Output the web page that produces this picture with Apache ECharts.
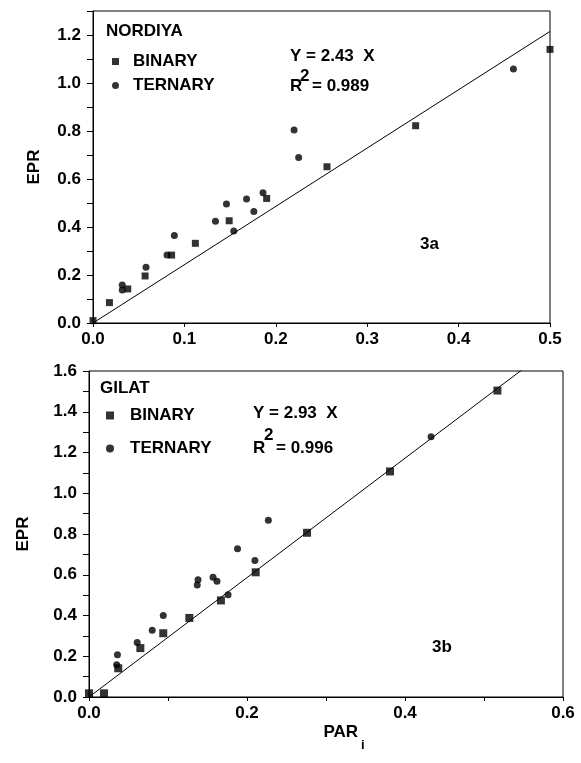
<!DOCTYPE html>
<html>
<head>
<meta charset="utf-8">
<script src="https://cdn.jsdelivr.net/npm/echarts@6/dist/echarts.min.js"></script>
<style>
html,body{margin:0;padding:0;background:#fff;}
#chart{width:581px;height:763px;}
</style>
</head>
<body>
<div id="chart"></div>
<script>
// ---- data ----
var nordiyaBinary = [[0,0.01],[0.018,0.085],[0.038,0.142],[0.057,0.196],[0.086,0.283],[0.112,0.332],[0.149,0.426],[0.190,0.519],[0.256,0.651],[0.353,0.822],[0.500,1.14]];
var nordiyaTernary = [[0.032,0.158],[0.032,0.137],[0.058,0.232],[0.081,0.283],[0.089,0.365],[0.134,0.424],[0.146,0.496],[0.154,0.383],[0.168,0.517],[0.176,0.465],[0.186,0.543],[0.220,0.804],[0.225,0.69],[0.460,1.058]];
var gilatBinary = [[0,0.018],[0.019,0.018],[0.037,0.141],[0.065,0.24],[0.094,0.313],[0.127,0.388],[0.167,0.474],[0.211,0.612],[0.276,0.806],[0.381,1.107],[0.517,1.504]];
var gilatTernary = [[0.036,0.207],[0.035,0.158],[0.061,0.268],[0.080,0.327],[0.094,0.40],[0.137,0.55],[0.138,0.575],[0.157,0.588],[0.162,0.568],[0.176,0.502],[0.188,0.727],[0.210,0.67],[0.227,0.867],[0.433,1.277]];
var nordiyaSlope = 2.43, nordiyaR2 = '0.989';
var gilatSlope = 2.93, gilatR2 = '0.996';
var nordiyaXMax = 0.5, nordiyaYMax = 1.3;
var gilatXMax = 0.6, gilatYMax = 1.6;
var seriesNames = ['BINARY','TERNARY'];
var plotTitles = ['NORDIYA','GILAT'];
var panelTags = ['3a','3b'];

var FONT = '"Liberation Sans", Arial, Helvetica, sans-serif';
var INK = '#000';
var FS = 17;
function tenths(v){ return Math.round(v*10); }
function lblAll(v){ return v.toFixed(1); }
function lblEven(v){ return tenths(v)%2===0 ? v.toFixed(1) : ''; }

function xAxisCfg(grid, max, fmt, name){
  var a = {
    type:'value', gridIndex:grid, min:0, max:max, interval:0.1,
    axisLine:{show:true, onZero:false, lineStyle:{color:INK,width:1}},
    axisTick:{show:true, length:4, lineStyle:{color:INK}},
    splitLine:{show:false},
    axisLabel:{formatter:fmt, color:INK, fontFamily:FONT, fontWeight:'bold', fontSize:FS, margin:8}
  };
  if(name){
    a.name = name; a.nameLocation='middle'; a.nameGap=27;
    a.nameTextStyle = {color:INK, fontFamily:FONT, fontWeight:'bold', fontSize:FS, padding:[0,0,0,36],
      rich:{m:{fontFamily:FONT,fontWeight:'bold',fontSize:FS,color:INK,verticalAlign:'top',lineHeight:18},
            s:{fontFamily:FONT,fontWeight:'bold',fontSize:13,color:INK,verticalAlign:'bottom',lineHeight:28,padding:[0,0,0,3]}}};
  }
  return a;
}
function yAxisCfg(grid, max, gap){
  return {
    type:'value', gridIndex:grid, min:0, max:max, interval:0.1,
    axisLine:{show:true, onZero:false, lineStyle:{color:INK,width:1}},
    axisTick:{show:true, length:6, lineStyle:{color:INK}},
    splitLine:{show:false},
    axisLabel:{formatter:lblEven, color:INK, fontFamily:FONT, fontWeight:'bold', fontSize:FS, margin:12},
    name:'EPR', nameLocation:'middle', nameGap:gap,
    nameTextStyle:{color:INK, fontFamily:FONT, fontWeight:'bold', fontSize:FS}
  };
}
function txt(x,y,s,size){
  return {type:'text', x:x, y:y, silent:true,
    style:{text:s, fill:INK, font:'bold '+(size||FS)+'px '+FONT, verticalAlign:'middle'}};
}

var chart = echarts.init(document.getElementById('chart'), null, {renderer:'canvas'});
chart.setOption({
  backgroundColor:'#fff',
  animation:false,
  grid:[
    {left:93, top:11, width:457, height:312, show:true, borderColor:INK, borderWidth:1, backgroundColor:'transparent'},
    {left:89, top:371, width:474, height:326, show:true, borderColor:INK, borderWidth:1, backgroundColor:'transparent'}
  ],
  xAxis:[ xAxisCfg(0, nordiyaXMax, lblAll), xAxisCfg(1, gilatXMax, lblEven, '{m|PAR}{s|i}') ],
  yAxis:[ yAxisCfg(0, nordiyaYMax, 50), yAxisCfg(1, gilatYMax, 57) ],
  legend:[
    {left:107, top:48, orient:'vertical', itemGap:7, itemWidth:7, itemHeight:7,
     data:[{name:seriesNames[0],icon:'rect'},{name:seriesNames[1],icon:'circle'}],
     textStyle:{color:INK, fontFamily:FONT, fontWeight:'bold', fontSize:FS, padding:[0,0,0,9]}, selectedMode:false},
    {left:101, top:402, orient:'vertical', itemGap:16, itemWidth:8, itemHeight:8,
     data:[{name:seriesNames[0],icon:'rect'},{name:seriesNames[1],icon:'circle'}],
     textStyle:{color:INK, fontFamily:FONT, fontWeight:'bold', fontSize:FS, padding:[0,0,0,11]}, selectedMode:false}
  ],
  series:[
    {type:'line', name:'fitA', xAxisIndex:0, yAxisIndex:0, data:[[0,0],[nordiyaXMax, nordiyaSlope*nordiyaXMax]],
     showSymbol:false, symbol:'none', silent:true, lineStyle:{color:INK,width:1}, clip:true, z:1},
    {type:'line', name:'fitB', xAxisIndex:1, yAxisIndex:1, data:[[0,0],[gilatXMax, gilatSlope*gilatXMax]],
     showSymbol:false, symbol:'none', silent:true, lineStyle:{color:INK,width:1}, clip:true, z:1},
    {type:'scatter', name:seriesNames[0], xAxisIndex:0, yAxisIndex:0, data:nordiyaBinary, symbol:'rect', symbolSize:7, itemStyle:{color:INK}, clip:false},
    {type:'scatter', name:seriesNames[1], xAxisIndex:0, yAxisIndex:0, data:nordiyaTernary, symbol:'circle', symbolSize:7, itemStyle:{color:INK}, clip:false},
    {type:'scatter', name:seriesNames[0], xAxisIndex:1, yAxisIndex:1, data:gilatBinary, symbol:'rect', symbolSize:8, itemStyle:{color:INK}, clip:false},
    {type:'scatter', name:seriesNames[1], xAxisIndex:1, yAxisIndex:1, data:gilatTernary, symbol:'circle', symbolSize:7, itemStyle:{color:INK}, clip:false}
  ],
  graphic:[
    txt(106, 31, plotTitles[0]),
    txt(290, 56, 'Y = ' + nordiyaSlope.toFixed(2) + '  X'),
    txt(290, 86, 'R'),
    txt(300, 76, '2'),
    txt(312, 86, '= ' + nordiyaR2),
    txt(420, 244, panelTags[0]),
    txt(100, 388, plotTitles[1]),
    txt(253, 413, 'Y = ' + gilatSlope.toFixed(2) + '  X'),
    txt(253, 448, 'R'),
    txt(264, 435, '2'),
    txt(276, 448, '= ' + gilatR2),
    txt(432, 647, panelTags[1])
  ]
});
</script>
</body>
</html>
